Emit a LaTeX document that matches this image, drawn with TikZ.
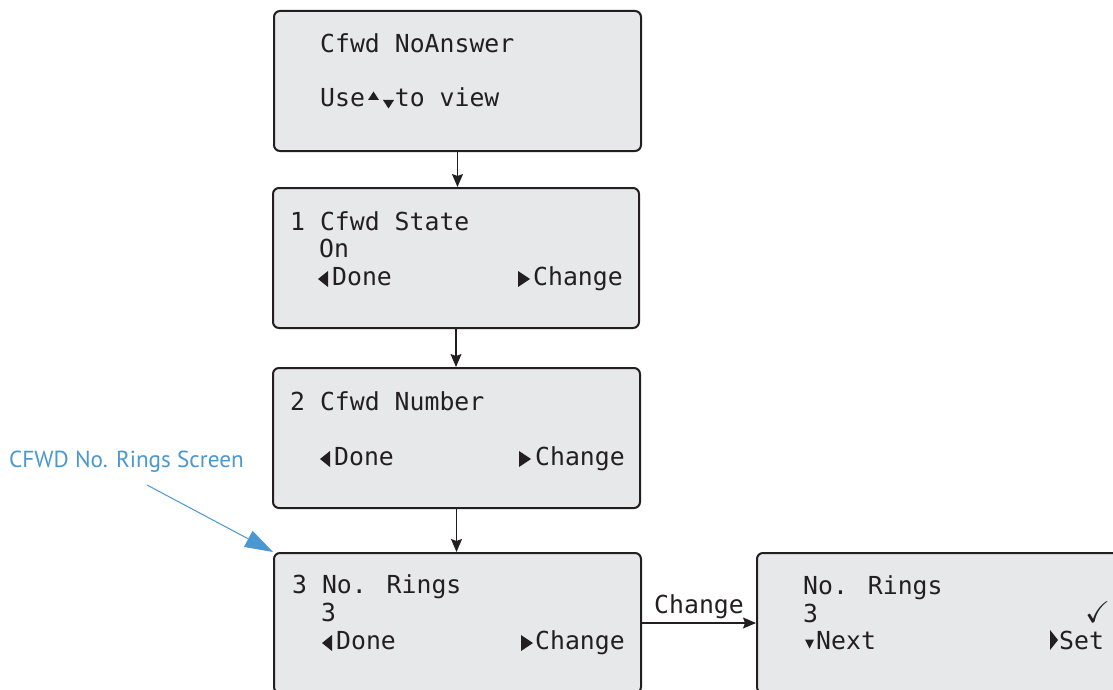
\documentclass[tikz,border=0pt]{standalone}
\usepackage{fontspec}
\usepackage{amssymb}
\usetikzlibrary{arrows.meta}
\newfontfamily\lcdfont{DejaVu Sans Mono}
\newfontfamily\calloutfont{PT Sans}
\definecolor{screenfill}{RGB}{231,232,234}
\definecolor{callblue}{RGB}{74,151,210}
\definecolor{lcdink}{RGB}{35,31,32}
\begin{document}
\begin{tikzpicture}[x=1pt,y=-1pt,
  screen/.style={draw=lcdink, line width=2pt, fill=screenfill, rounded corners=6pt,
    minimum width=367pt, minimum height=140pt, anchor=north west, inner sep=0pt},
  lcdtext/.style={anchor=base west, inner sep=0pt, text=lcdink,
    font=\lcdfont\fontsize{24.8}{27}\selectfont},
  flow/.style={draw=lcdink, line width=1.1pt, -{Stealth[length=13pt,width=11pt,inset=2pt]}},
  calltext/.style={anchor=base west, inner sep=0pt, text=callblue,
    font=\calloutfont\fontsize{23.2}{26}\selectfont},
  callarrow/.style={draw=callblue, line width=1pt, -{Triangle[length=28pt,width=18pt]}},
  tril/.pic={\fill[lcdink] (0,0) -- (10,-8) -- (10,8) -- cycle;},
  trir/.pic={\fill[lcdink] (0,-8) -- (12,0) -- (0,8) -- cycle;},
  trirn/.pic={\fill[lcdink] (0,-10) -- (8,0) -- (0,10) -- cycle;},
  triu/.pic={\fill[lcdink] (0,4) -- (5.5,-4.5) -- (11,4) -- cycle;},
  trid/.pic={\fill[lcdink] (0,-4) -- (11,-4) -- (5.5,4.5) -- cycle;},
  trids/.pic={\fill[lcdink] (0,-4.5) -- (9,-4.5) -- (4.5,4.5) -- cycle;}
]
\useasboundingbox (0,0) rectangle (1113,690);
\clip (0,0) rectangle (1113,690);

% screens
\node[screen, minimum width=367pt] (b1) at (273,10) {};
\node[screen, minimum width=366pt] (b2) at (272,187) {};
\node[screen, minimum width=367pt] (b3) at (272,367) {};
\node[screen, minimum width=367pt] (b4) at (273,552) {};
\node[screen, minimum width=367pt] (b5) at (756,552) {};

% screen 1
\node[lcdtext] (t1a) at (320,52.7) {Cfwd NoAnswer};
\node[lcdtext] (t1b) at (320,106.7) {Use\ \ to view};
\pic at (368,96) {triu};
\pic at (383,104) {trid};

% screen 2
\node[lcdtext] (t2a) at (290,230) {1 Cfwd State};
\node[lcdtext] (t2b) at (319,257) {On};
\pic at (318,279) {tril};
\node[lcdtext] (t2c) at (332,285) {Done};
\pic at (518,279) {trir};
\node[lcdtext] (t2d) at (533,285) {Change};

% screen 3
\node[lcdtext] (t3a) at (290,410) {2 Cfwd Number};
\pic at (320,459) {tril};
\node[lcdtext] (t3c) at (334,465) {Done};
\pic at (519,459) {trir};
\node[lcdtext] (t3d) at (535,465) {Change};

% screen 4
\node[lcdtext] (t4a) at (292,593) {3 No. Rings};
\node[lcdtext] (t4b) at (321,621) {3};
\pic at (322,643) {tril};
\node[lcdtext] (t4c) at (336,649) {Done};
\pic at (521,643) {trir};
\node[lcdtext] (t4d) at (535,649) {Change};

% screen 5
\node[lcdtext] (t5a) at (803,594) {No. Rings};
\node[lcdtext] (t5b) at (803,622) {3};
\node[anchor=base west, inner sep=0pt, text=lcdink] (t5ck) at (1085,622) {\scalebox{3}{$\checkmark$}};
\pic at (805,644) {trids};
\node[lcdtext] (t5c) at (816,649) {Next};
\pic at (1050,640) {trirn};
\node[lcdtext] (t5d) at (1059,649) {Set};

% connectors
\draw[flow] (b1.south) -- (b1.south |- b2.north);
\draw[flow] (b2.south) -- (b2.south |- b3.north);
\draw[flow] (b3.south) -- (b3.south |- b4.north);
\draw[flow] (b4.east) -- node[lcdtext, anchor=base, midway, yshift=10pt] (chg) {Change} (b5.west);

% callout
\node[calltext] (cl) at (9,467) {CFWD No. Rings Screen};
\coordinate (cs) at (147,485);
\draw[callarrow] (cs) -- (b4.north west);
\end{tikzpicture}
\end{document}
